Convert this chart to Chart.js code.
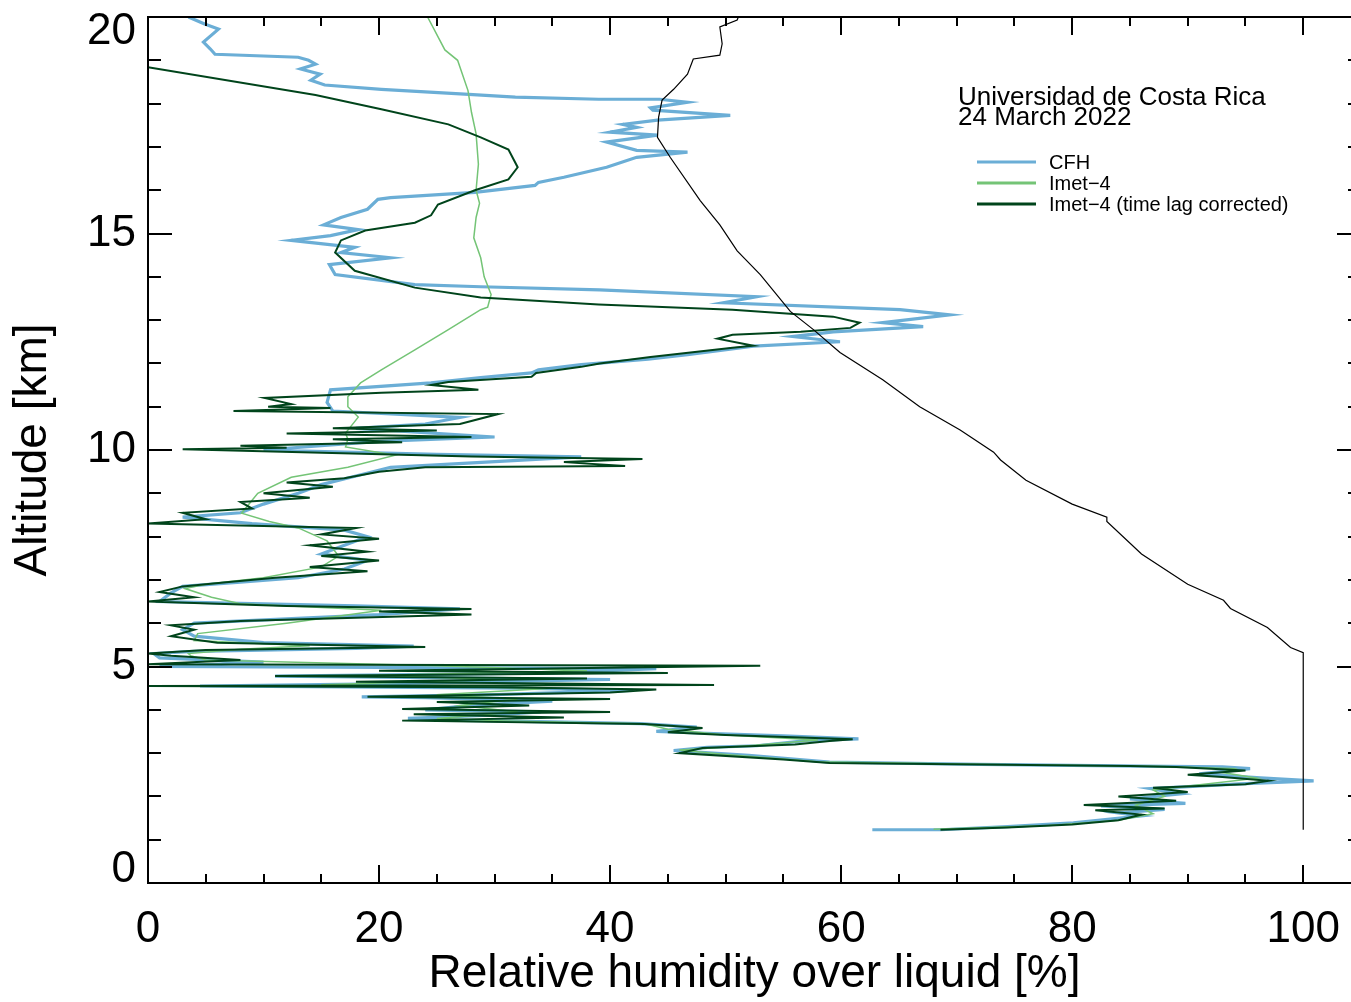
<!DOCTYPE html>
<html>
<head>
<meta charset="utf-8">
<script src="https://cdn.jsdelivr.net/npm/chart.js@4.4.1/dist/chart.umd.min.js"></script>
<style>
  html, body { margin: 0; padding: 0; overflow: hidden; background: #fff; }
  #wrap { width: 1372px; height: 1002px; }
</style>
</head>
<body>
<div id="wrap"><canvas id="profile" width="1372" height="1002"></canvas></div>
<script>
// profile values: [relative humidity over liquid %, altitude km]
const cfh = [
  [62.7,1.23],[68.6,1.23],[74.4,1.3],[80.1,1.39],[83.5,1.48],[86,1.55],[84,1.62],[88,1.7],[82.5,1.78],
  [89.8,1.84],[85,1.94],[89.4,2.06],[86.8,2.18],[94.5,2.29],[100.9,2.36],[96.3,2.43],[91,2.52],[95.4,2.64],
  [93,2.68],[86,2.7],[72,2.74],[59,2.79],[52,2.95],[45.5,3.06],[48.4,3.13],[52.7,3.17],[57,3.29],[61.5,3.33],
  [55,3.4],[47,3.47],[44,3.5],[47.5,3.6],[42.6,3.68],[35,3.72],[26,3.76],[22.5,3.8],[30,3.88],[34,3.95],
  [24,4.0],[28,4.1],[35,4.2],[24,4.28],[18.5,4.3],[30,4.35],[42,4.45],[32,4.5],[4.5,4.55],[20,4.6],[40,4.7],
  [11,4.78],[35,4.85],[44,4.95],[1,5.0],[10,5.1],[1,5.2],[0.5,5.3],[4,5.35],[18,5.42],[23,5.47],[10,5.55],
  [4,5.7],[3,5.85],[4,6.0],[20,6.2],[27,6.33],[18,6.4],[1,6.5],[2,6.7],[3,6.85],[8,6.95],[13,7.05],[17,7.25],
  [19,7.45],[15,7.6],[17,7.8],[19,8.0],[17,8.15],[9,8.3],[3,8.45],[8,8.55],[10,8.75],[13,9.0],[15,9.2],
  [18,9.4],[21,9.6],[37.5,9.84],[25,9.9],[10,10.0],[20,10.2],[30,10.3],[18,10.5],[24,10.6],[27,10.75],
  [16,10.9],[15.5,11.1],[15.8,11.39],[24.5,11.55],[28.8,11.67],[33.2,11.78],[33.8,11.85],[37.5,11.97],
  [43.3,12.1],[46.7,12.2],[52.4,12.4],[59.9,12.5],[55.8,12.62],[59.3,12.73],[67.1,12.85],[63.6,12.94],
  [69.4,13.12],[65.1,13.24],[49.8,13.4],[52.7,13.54],[39.1,13.7],[28.8,13.77],[23.1,13.82],[16.2,14.05],
  [15.7,14.28],[21,14.44],[16.7,14.56],[17.9,14.68],[12.4,14.84],[15.8,14.95],[18.2,15.09],[15.2,15.2],
  [16.7,15.37],[19,15.56],[19.9,15.79],[21,15.83],[28.3,15.95],[33.5,16.11],[33.8,16.18],[36,16.3],
  [39.7,16.53],[42.3,16.76],[46.7,16.88],[42.3,16.92],[39.7,17.11],[44.1,17.27],[40,17.34],[42.3,17.45],
  [41.1,17.52],[44.1,17.62],[50.4,17.73],[43.7,17.85],[43.5,17.9],[46.7,18.03],[44.3,18.1],[39,18.1],
  [31.8,18.15],[27.4,18.22],[20.2,18.33],[15.3,18.43],[14.1,18.54],[14.9,18.68],[13.2,18.8],[14.5,18.91],
  [13.9,19.0],[13,19.07],[5.8,19.14],[5.4,19.26],[4.8,19.42],[6.1,19.72],[4.9,19.84],[3.5,20]
];

const imet = [
  [68,1.24],[78,1.33],[84,1.45],[87,1.6],[85.5,1.8],[88,2.0],[87,2.15],[92,2.3],[96,2.42],[93,2.55],
  [94,2.64],[88,2.69],[72,2.74],[58,2.8],[50,2.97],[46,3.07],[52,3.17],[58,3.3],[50,3.42],[45,3.55],
  [43,3.68],[30,3.75],[25,3.8],[32,3.95],[27,4.1],[32,4.25],[25,4.35],[35,4.5],[15,4.58],[30,4.7],
  [20,4.8],[38,4.9],[25,5.02],[5,5.15],[3.7,5.25],[3.5,5.3],[8,5.4],[14,5.48],[4,5.6],[4.3,5.76],
  [12,6.0],[20.2,6.3],[8,6.45],[5.5,6.6],[3.2,6.8],[5,6.9],[10,7.05],[15,7.3],[16.5,7.55],[15.5,7.9],
  [13,8.2],[10.5,8.35],[8.1,8.54],[9.5,9.0],[12.4,9.37],[17.3,9.6],[21.4,9.88],[17.1,10.07],[17.3,10.25],
  [17.1,10.39],[18.2,10.76],[17.3,11.0],[17.3,11.23],[18.4,11.55],[20.2,11.85],[23.1,12.31],[26,12.78],
  [28.8,13.24],[29.4,13.3],[29.7,13.59],[29.1,14.0],[28.8,14.44],[28.2,14.9],[28.4,15.37],[28.7,15.7],
  [28.4,16.0],[28.6,16.6],[28.4,17.3],[28.0,17.8],[27.7,18.3],[26.8,19.0],[25.7,19.24],[24.2,20]
];

const imetCorr = [
  [68.6,1.23],[74.4,1.28],[80,1.35],[84,1.45],[86,1.58],[82,1.68],[88,1.72],[81,1.8],[89,1.9],[84,2.0],
  [90,2.1],[87,2.2],[95,2.28],[97,2.36],[93,2.45],[90,2.5],[95,2.6],[89,2.68],[85,2.7],[59,2.77],[55,2.85],
  [46,3.0],[48,3.12],[56,3.2],[59,3.28],[61,3.32],[50,3.42],[45,3.48],[48,3.58],[43,3.67],[22,3.75],
  [36,3.82],[23,3.9],[40,3.95],[22,4.02],[33,4.1],[25,4.18],[40,4.25],[19,4.3],[40,4.4],[44,4.47],
  [30,4.52],[0,4.55],[49,4.57],[18,4.65],[38,4.72],[11,4.78],[45,4.85],[20,4.9],[53,5.02],[0,5.05],
  [8,5.15],[2,5.25],[0,5.3],[5,5.38],[24,5.45],[6,5.55],[2,5.7],[4,5.85],[2,5.95],[8,6.05],[28,6.2],
  [20,6.27],[28,6.33],[12,6.4],[0,6.5],[4,6.6],[1,6.72],[3,6.85],[7,6.95],[11,7.05],[19,7.2],[14,7.3],
  [20,7.45],[15,7.55],[19,7.65],[14,7.8],[20,7.95],[15,8.05],[18,8.2],[0,8.3],[5,8.4],[3,8.55],[9,8.65],
  [8,8.8],[14,8.9],[10,9.0],[16,9.15],[12,9.25],[17,9.35],[20,9.5],[24,9.6],[41.3,9.63],[36,9.72],
  [42.8,9.79],[28,9.85],[3,10.02],[12,10.05],[8,10.1],[22,10.18],[16,10.25],[28,10.3],[12,10.38],
  [25,10.45],[16,10.5],[27,10.6],[30.3,10.83],[7.4,10.9],[15.8,10.97],[10.4,11.0],[12.4,11.06],[10.1,11.2],
  [20.2,11.32],[28.6,11.39],[24.5,11.5],[26,11.57],[33.2,11.69],[33.6,11.78],[37.5,11.92],[39.1,12.0],
  [43.5,12.15],[50.6,12.36],[52.4,12.41],[49.3,12.57],[50.6,12.66],[56.5,12.73],[60.8,12.82],[61.6,12.94],
  [59.3,13.08],[50.6,13.24],[39,13.36],[28.8,13.52],[23.1,13.75],[17.9,14.14],[16.2,14.56],[16.7,14.84],
  [18.8,15.07],[23.1,15.25],[24.5,15.42],[25.1,15.67],[28.3,16.0],[31.2,16.25],[32,16.53],[31.2,16.94],
  [28.8,17.22],[26,17.52],[20.2,17.87],[14.5,18.2],[0,18.84]
];

// ice saturation expressed as RH over liquid (unlabelled black curve)
const iceSat = [
  [100,1.23],[100,4.8],[100,5.32],[98.9,5.44],[96.9,5.9],[93.7,6.34],[93.1,6.53],[90,6.9],[86,7.6],
  [83,8.35],[83,8.45],[80,8.75],[76,9.3],[73.8,9.77],[73.2,9.95],[70.3,10.46],[66.8,11.0],[63.6,11.62],
  [59.9,12.25],[57.6,12.78],[55.6,13.2],[53,14.05],[51,14.6],[49.5,15.2],[47.8,15.76],[45.2,16.76],
  [44.1,17.22],[44.2,17.69],[44.5,18.08],[45.5,18.33],[46.7,18.68],[47.2,19.03],[49.5,19.12],[49.7,19.38],
  [49.5,19.77],[51,19.93],[51.1,20]
];

const xTicks = [0, 20, 40, 60, 80, 100];
const yTicks = [0, 5, 10, 15, 20];
const xMinorStep = 5;
const yMinorStep = 1;
const seriesNames = ["CFH", "Imet\u22124", "Imet\u22124 (time lag corrected)"];
const seriesColors = ["#6baed6", "#74c476", "#00441b"];

const FONT = "'Liberation Sans', Arial, Helvetica, sans-serif";
const toPts = arr => arr.map(p => ({ x: p[0], y: p[1] }));

// box with inward ticks on all sides, y labels, legend text
const frame = {
  id: "frame",
  afterDatasetsDraw(chart) {
    const { ctx, chartArea: a, scales: { x, y } } = chart;
    ctx.save();
    ctx.strokeStyle = "#000";
    ctx.lineWidth = 2;
    ctx.strokeRect(a.left, a.top, a.right - a.left, a.bottom - a.top);

    ctx.beginPath();
    for (let v = 0; v <= x.max; v += xMinorStep) {
      const p = Math.round(x.getPixelForValue(v));
      const len = v % 20 === 0 ? 18 : 9;
      ctx.moveTo(p, a.bottom); ctx.lineTo(p, a.bottom - len);
      ctx.moveTo(p, a.top); ctx.lineTo(p, a.top + len);
    }
    for (let v = 0; v <= y.max; v += yMinorStep) {
      const p = Math.round(y.getPixelForValue(v));
      const len = v % 5 === 0 ? 24 : 13;
      ctx.moveTo(a.left, p); ctx.lineTo(a.left + len, p);
      ctx.moveTo(a.right, p); ctx.lineTo(a.right - len, p);
    }
    ctx.stroke();

    // y tick labels, kept inside the box at the ends
    ctx.fillStyle = "#000";
    ctx.font = "44px " + FONT;
    ctx.textAlign = "right";
    ctx.textBaseline = "middle";
    yTicks.forEach(v => {
      const p = y.getPixelForValue(v);
      const py = Math.min(Math.max(p, a.top + 15), a.bottom - 13);
      ctx.fillText(String(v), a.left - 12, py);
    });

    // legend
    const lx = a.left + 810;
    ctx.textAlign = "left";
    ctx.textBaseline = "alphabetic";
    ctx.font = "26px " + FONT;
    ctx.fillText("Universidad de Costa Rica", lx, a.top + 88);
    ctx.fillText("24 March 2022", lx, a.top + 108);
    ctx.font = "20px " + FONT;
    seriesNames.forEach((name, i) => {
      const ly = a.top + 145 + i * 21;
      ctx.strokeStyle = seriesColors[i];
      ctx.lineWidth = 3;
      ctx.beginPath();
      ctx.moveTo(lx + 19, ly); ctx.lineTo(lx + 78, ly);
      ctx.stroke();
      ctx.fillText(name, lx + 91, ly + 7);
    });
    ctx.restore();
  }
};

const line = (label, data, color, width) => ({
  label, data: toPts(data), borderColor: color, backgroundColor: color,
  borderWidth: width, showLine: true, pointRadius: 0, tension: 0, fill: false
});

// first dataset is painted on top
new Chart(document.getElementById("profile"), {
  type: "scatter",
  data: {
    datasets: [
      line("ice", iceSat, "#000000", 1.2),
      line(seriesNames[2], imetCorr, seriesColors[2], 2),
      line(seriesNames[1], imet, seriesColors[1], 1.5),
      line(seriesNames[0], cfh, seriesColors[0], 3.2)
    ]
  },
  options: {
    responsive: false,
    animation: false,
    events: [],
    layout: { padding: { left: 0, right: 11, top: 17, bottom: 0 } },
    plugins: { legend: { display: false }, tooltip: { enabled: false } },
    scales: {
      x: {
        type: "linear", position: "bottom", min: 0, max: 105,
        grid: { display: false }, border: { display: false },
        afterFit: s => { s.height = 119; },
        afterBuildTicks: s => { s.ticks = xTicks.map(v => ({ value: v })); },
        ticks: {
          color: "#000", font: { family: FONT, size: 44 }, padding: 12,
          maxRotation: 0, autoSkip: false, includeBounds: false
        },
        title: {
          display: true, text: "Relative humidity over liquid [%]", color: "#000",
          font: { family: FONT, size: 46 }, padding: { top: 0, bottom: 0 }
        }
      },
      y: {
        type: "linear", position: "left", min: 0, max: 20,
        grid: { display: false }, border: { display: false },
        afterFit: s => { s.width = 148; },
        ticks: { display: false },
        title: {
          display: true, text: "Altitude [km]", color: "#000",
          font: { family: FONT, size: 46 }, padding: { top: 6, bottom: 0 }
        }
      }
    }
  },
  plugins: [frame]
});
</script>
</body>
</html>
